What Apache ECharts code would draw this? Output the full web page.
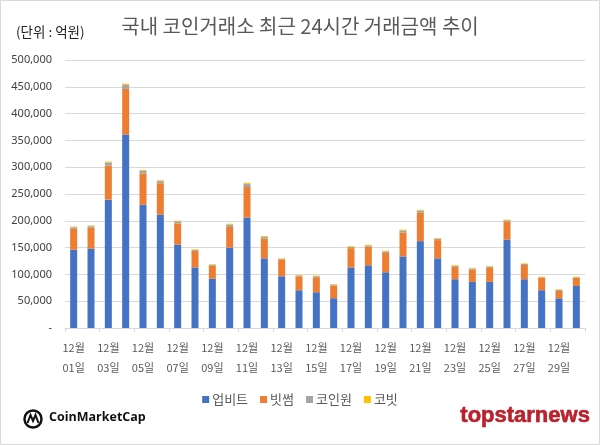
<!DOCTYPE html>
<html><head><meta charset="utf-8">
<script src="https://cdn.jsdelivr.net/npm/echarts@6/dist/echarts.min.js"></script>
<style>html,body{margin:0;padding:0;background:#fff}#c{width:600px;height:445px}</style>
</head><body><div id="c"></div>
<script>
const days = ['01','02','03','04','05','06','07','08','09','10','11','12','13','14','15','16','17','18','19','20','21','22','23','24','25','26','27','28','29','30'];
const categories = days.map(d => '12월\n' + d + '일');
const seriesNames = ['업비트','빗썸','코인원','코빗'];
const upbit   = [146000,148000,239500,361000,230000,211500,155500,113000,92000,150000,206000,130000,96500,70400,66700,55600,113000,117000,104000,133600,162000,130000,91000,86000,86000,165000,91000,70500,55500,78500];
const bithumb = [39000,39000,63500,85000,58000,58500,39500,31000,24000,38500,57000,36500,31000,26000,28000,23400,36000,34600,36000,44400,53000,34000,23500,23000,26000,34000,26500,23000,13500,15000];
const coinone = [3000,3000,6000,8000,5600,4000,4000,2000,2000,4500,6000,3500,1500,1500,2000,2000,2600,2500,3000,4000,4000,2500,2000,2000,2500,2000,2000,1200,2000,1200];
const korbit  = [1200,1200,1500,2000,1500,1500,1200,1000,1000,1500,2000,1500,1000,1000,1000,1000,1200,1200,1200,1500,1500,1200,1000,1000,1200,1200,1000,1000,1000,1000];
const yMax = 500000, yInterval = 50000;
const colors = ['#4472C4','#ED7D31','#A5A5A5','#FFC000'];
const values = [upbit, bithumb, coinone, korbit];

const chart = echarts.init(document.getElementById('c'), null, {renderer:'canvas'});
const txt = '#595959';
chart.setOption({
  animation:false,
  color: colors,
  title: [
    {text:'국내 코인거래소 최근 24시간 거래금액 추이', left:'center', top:11,
     textStyle:{fontFamily:'Noto Sans CJK KR', fontWeight:'normal', fontSize:20, color:txt}},
    {text:'(단위 : 억원)', left:11, top:20,
     textStyle:{fontFamily:'Noto Sans CJK KR', fontWeight:'normal', fontSize:13.5, color:'#222'}}
  ],
  grid:{left:65, right:15, top:60, bottom:117, containLabel:false},
  legend:{bottom:34, left:'center', itemWidth:7, itemHeight:7, itemGap:12, icon:'rect',
    textStyle:{fontFamily:'Noto Sans CJK KR', fontSize:13, color:txt, padding:[0,0,0,-2]},
    data: seriesNames},
  xAxis:{type:'category', data:categories,
    axisLine:{lineStyle:{color:'#d9d9d9'}},
    axisTick:{show:true, interval:1, length:4, lineStyle:{color:'#d9d9d9'}},
    axisLabel:{interval:1, color:txt, fontFamily:'Noto Sans CJK KR', fontSize:11, lineHeight:20, margin:10}},
  yAxis:{type:'value', min:0, max:yMax, interval:yInterval,
    axisLine:{show:false}, axisTick:{show:false},
    splitLine:{lineStyle:{color:'#d9d9d9'}},
    axisLabel:{color:'#404040', fontFamily:'Noto Sans', fontSize:11, margin:13,
      formatter: v => v === 0 ? '-' : v.toLocaleString('en-US')}},
  series: seriesNames.map((n,i)=>({name:n, type:'bar', stack:'t', barWidth:7, data:values[i],
    itemStyle:{color:colors[i]}})),
  graphic:[
    {type:'rect', shape:{x:0.5,y:0.5,width:599,height:444}, style:{fill:'none', stroke:'#d9d9d9', lineWidth:1}, silent:true},
    {type:'circle', shape:{cx:33, cy:419, r:8.5}, style:{fill:'none', stroke:'#111', lineWidth:2.5}},
    {type:'polyline', shape:{points:[[27.5,423],[30.5,415],[33,421],[35.5,415],[38.5,423]]}, style:{fill:'none', stroke:'#111', lineWidth:2}},
    {type:'text', left:49, top:411, style:{text:'CoinMarketCap', font:'bold 12.5px "Open Sans"', fill:'#111'}},
    {type:'text', left:460, top:405, style:{text:'topstarnews', font:'bold 22px "Liberation Sans"', fill:'#b8222d', stroke:'#b8222d', lineWidth:0.6}}
  ]
});
</script></body></html>
